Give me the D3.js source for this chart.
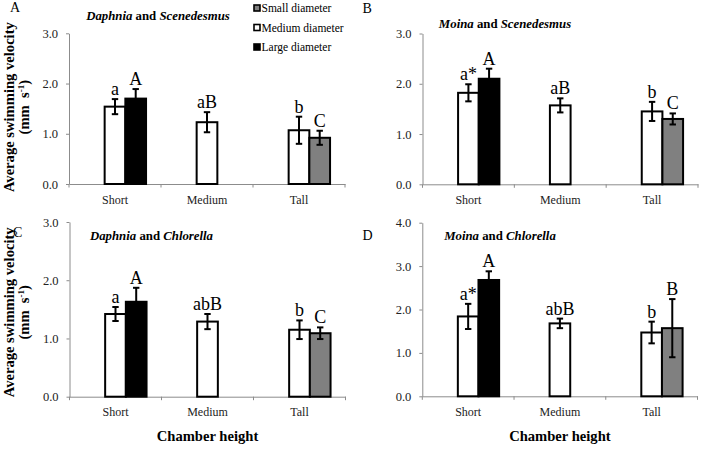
<!DOCTYPE html>
<html>
<head>
<meta charset="utf-8">
<script src="https://cdn.jsdelivr.net/npm/d3@7"></script>
<style>
  html, body { margin: 0; padding: 0; background: #fff; }
  svg text { font-family: "Liberation Serif", "Times New Roman", "DejaVu Serif", serif !important; }
</style>
</head>
<body>
<svg id="chart" width="701" height="449"></svg>
<script>
// ---------------- DATA ----------------
const categories = ["Short", "Medium", "Tall"];

const legendLabels = ["Small diameter", "Medium diameter", "Large diameter"];
const legendFills = ["#808080", "#ffffff", "#000000"];

const panelLetters = ["A", "B", "C", "D"];
const panelPredators = ["Daphnia", "Moina", "Daphnia", "Moina"];
const panelPrey = ["Scenedesmus", "Scenedesmus", "Chlorella", "Chlorella"];
const panelYMax = [3, 3, 3, 4];

// first (white) bar of each chamber height
const whiteMeansA = [1.54, 1.23, 1.07];
const whiteErrA   = [0.15, 0.20, 0.27];
const whiteMeansB = [1.82, 1.57, 1.45];
const whiteErrB   = [0.17, 0.14, 0.19];
const whiteMeansC = [1.42, 1.29, 1.15];
const whiteErrC   = [0.12, 0.13, 0.16];
const whiteMeansD = [1.84, 1.68, 1.47];
const whiteErrD   = [0.29, 0.11, 0.25];

// second (filled) bar of each chamber height (none for Medium)
const fillMeansA = [1.70, null, 0.92];
const fillErrA   = [0.19, null, 0.14];
const fillMeansB = [2.10, null, 1.30];
const fillErrB   = [0.20, null, 0.11];
const fillMeansC = [1.63, null, 1.09];
const fillErrC   = [0.24, null, 0.10];
const fillMeansD = [2.68, null, 1.57];
const fillErrD   = [0.20, null, 0.67];
const fillColors = ["#000000", null, "#808080"];

// significance letters
const whiteLabelsA = ["a", "aB", "b"];
const fillLabelsA  = ["A", "", "C"];
const whiteLabelsB = ["a*", "aB", "b"];
const fillLabelsB  = ["A", "", "C"];
const whiteLabelsC = ["a", "abB", "b"];
const fillLabelsC  = ["A", "", "C"];
const whiteLabelsD = ["a*", "abB", "b"];
const fillLabelsD  = ["A", "", "B"];

const yTickStep = 1;
const xAxisTitle = "Chamber height";
const yAxisTitle1 = "Average swimming velocity";

// ---------------- LAYOUT ----------------
const SERIF = "'Liberation Serif', 'Times New Roman', 'DejaVu Serif', serif";
const panels = [
  { letter: 0, wm: whiteMeansA, we: whiteErrA, fm: fillMeansA, fe: fillErrA, wl: whiteLabelsA, fl: fillLabelsA,
    x0: 69, x1: 345, yBot: 184, yTop: 33.3, letterXY: [10, 12], titleXY: [158, 20], yLabel: true, xLabel: false },
  { letter: 1, wm: whiteMeansB, we: whiteErrB, fm: fillMeansB, fe: fillErrB, wl: whiteLabelsB, fl: fillLabelsB,
    x0: 422.5, x1: 698, yBot: 184.3, yTop: 33.5, letterXY: [362.5, 13], titleXY: [505, 27.5], yLabel: false, xLabel: false },
  { letter: 2, wm: whiteMeansC, we: whiteErrC, fm: fillMeansC, fe: fillErrC, wl: whiteLabelsC, fl: fillLabelsC,
    x0: 69.5, x1: 345.5, yBot: 396.7, yTop: 222, letterXY: [13, 237], titleXY: [151.5, 240], yLabel: true, xLabel: true },
  { letter: 3, wm: whiteMeansD, we: whiteErrD, fm: fillMeansD, fe: fillErrD, wl: whiteLabelsD, fl: fillLabelsD,
    x0: 422.3, x1: 697.5, yBot: 396.3, yTop: 222.7, letterXY: [362.5, 240], titleXY: [500, 240], yLabel: false, xLabel: true }
];

const svg = d3.select("#chart").attr("font-family", SERIF);
const axisColor = "#8c8c8c";

panels.forEach(p => {
  const idx = p.letter;
  const g = svg.append("g");
  const x = d3.scaleBand().domain(categories).range([p.x0, p.x1]).paddingInner(0).paddingOuter(0);
  const slot = d3.scaleBand().domain([0, 1, 2]).range([0, x.bandwidth()]).paddingInner(0).paddingOuter(0.722);
  const y = d3.scaleLinear().domain([0, panelYMax[idx]]).range([p.yBot, p.yTop]);
  const bw = slot.bandwidth();

  // y axis
  const yAxis = d3.axisLeft(y).tickValues(d3.range(0, panelYMax[idx] + 0.001, yTickStep))
    .tickFormat(d3.format(".1f")).tickSizeInner(3).tickSizeOuter(0).tickPadding(8);
  const ya = g.append("g").attr("transform", `translate(${p.x0},0)`).call(yAxis).attr("font-family", SERIF);
  ya.select(".domain").attr("stroke", axisColor).attr("stroke-width", 1);
  ya.selectAll(".tick line").attr("stroke", axisColor);
  ya.selectAll(".tick text").attr("fill", "#222").attr("font-size", 12.5);

  // x axis
  const xAxis = d3.axisBottom(x).tickSize(0).tickPadding(11);
  const xa = g.append("g").attr("transform", `translate(0,${p.yBot})`).call(xAxis).attr("font-family", SERIF);
  xa.select(".domain").attr("stroke", axisColor).attr("stroke-width", 1);
  xa.selectAll(".tick text").attr("fill", "#222").attr("font-size", 12);
  // boundary tick marks between categories
  const bounds = categories.map(c => x(c)).concat([x(categories[categories.length - 1]) + x.bandwidth()]);
  g.selectAll(".btick").data(bounds).enter().append("line")
    .attr("x1", d => d).attr("x2", d => d)
    .attr("y1", p.yBot).attr("y2", p.yBot + 3.5)
    .attr("stroke", axisColor).attr("stroke-width", 1);

  // bars
  const bars = [];
  categories.forEach((c, i) => {
    bars.push({ cat: c, slot: 1, v: p.wm[i], e: p.we[i], fill: "#ffffff", label: p.wl[i] });
    if (p.fm[i] != null) bars.push({ cat: c, slot: 2, v: p.fm[i], e: p.fe[i], fill: fillColors[i], label: p.fl[i] });
  });

  g.selectAll(".bar").data(bars).enter().append("rect")
    .attr("x", d => x(d.cat) + slot(d.slot))
    .attr("width", bw)
    .attr("y", d => y(d.v))
    .attr("height", d => y(0) - y(d.v))
    .attr("fill", d => d.fill)
    .attr("stroke", "#000").attr("stroke-width", 2);

  // error bars
  const cap = 3.2;
  bars.forEach(d => {
    const cx = x(d.cat) + slot(d.slot) + bw / 2;
    g.append("line").attr("x1", cx).attr("x2", cx).attr("y1", y(d.v + d.e)).attr("y2", y(d.v - d.e))
      .attr("stroke", "#000").attr("stroke-width", 2);
    [d.v + d.e, d.v - d.e].forEach(v => {
      g.append("line").attr("x1", cx - cap).attr("x2", cx + cap).attr("y1", y(v)).attr("y2", y(v))
        .attr("stroke", "#000").attr("stroke-width", 2);
    });
    if (d.label) {
      g.append("text").attr("x", cx).attr("y", y(d.v + d.e) - 4)
        .attr("text-anchor", "middle").attr("font-size", 18).attr("fill", "#000")
        .text(d.label);
    }
  });

  // panel letter
  g.append("text").attr("x", p.letterXY[0]).attr("y", p.letterXY[1])
    .attr("font-size", 14).attr("fill", "#000").text(panelLetters[idx]);

  // panel title
  const t = g.append("text").attr("x", p.titleXY[0]).attr("y", p.titleXY[1])
    .attr("text-anchor", "middle").attr("font-size", 12.8).attr("font-weight", "bold").attr("fill", "#000");
  t.append("tspan").attr("font-style", "italic").text(panelPredators[idx]);
  t.append("tspan").text(" and ");
  t.append("tspan").attr("font-style", "italic").text(panelPrey[idx]);

  // y label
  if (p.yLabel) {
    const cy = (p.yBot + p.yTop) / 2 + (idx === 2 ? 3 : -1.5);
    g.append("text").attr("transform", `translate(14,${cy}) rotate(-90)`)
      .attr("text-anchor", "middle").attr("font-size", 14.6).attr("font-weight", "bold")
      .text(yAxisTitle1);
    const t2 = g.append("text").attr("transform", `translate(28.5,${cy}) rotate(-90)`)
      .attr("text-anchor", "middle").attr("font-size", 14.6).attr("font-weight", "bold")
      .style("white-space", "pre");
    t2.append("tspan").text("(mm  s");
    t2.append("tspan").attr("baseline-shift", "super").attr("font-size", 9).text("-1");
    t2.append("tspan").text(")");
  }

  // x label
  if (p.xLabel) {
    g.append("text").attr("x", (p.x0 + p.x1) / 2).attr("y", 441)
      .attr("text-anchor", "middle").attr("font-size", 14.6).attr("font-weight", "bold")
      .text(xAxisTitle);
  }
});

// legend
const lg = svg.append("g");
legendLabels.forEach((lab, i) => {
  const cy = 8 + i * 19.5;
  lg.append("rect").attr("x", 254).attr("y", cy - 3).attr("width", 6).attr("height", 6)
    .attr("fill", legendFills[i]).attr("stroke", "#000").attr("stroke-width", 1.6);
  lg.append("text").attr("x", 261.5).attr("y", cy + 4).attr("font-size", 11.5).attr("fill", "#000").text(lab);
});
</script>
</body>
</html>
